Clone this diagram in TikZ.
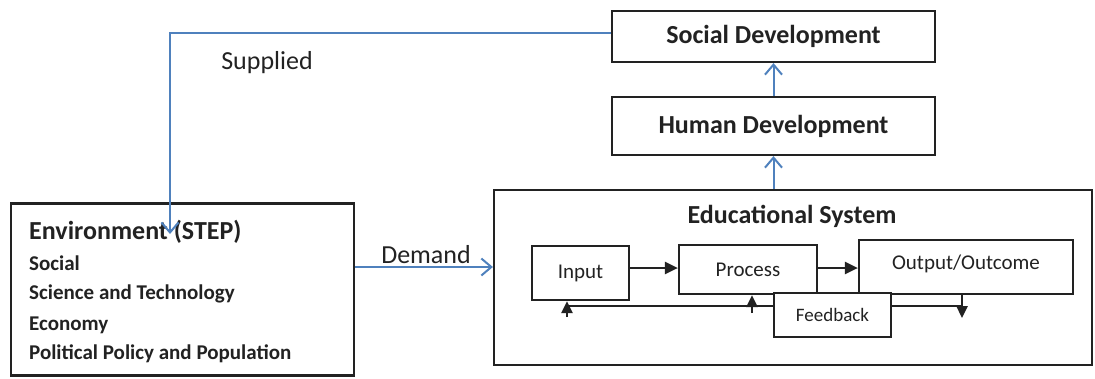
\documentclass[tikz,border=0pt]{standalone}
\usepackage{fontspec}
\setmainfont{Carlito}
\usetikzlibrary{arrows.meta}
\definecolor{lblue}{HTML}{4F81BD}
\definecolor{ink}{HTML}{222222}
\begin{document}
\begin{tikzpicture}[x=1pt,y=-1pt,
  box/.style={draw=ink,line width=2.2pt,fill=white,inner sep=0pt,text=ink},
  bluearrow/.style={draw=lblue,line width=2pt,-{Straight Barb[length=10pt,width=17pt,line width=2pt]}},
  blackarrow/.style={draw=ink,line width=2.4pt,-{Triangle[length=13pt,width=12pt]}},
  vblackarrow/.style={draw=ink,line width=2.4pt,-{Triangle[length=12pt,width=11pt]}},
  blackline/.style={draw=ink,line width=2.4pt},
  head/.style={font=\fontsize{26}{30}\selectfont\bfseries,text=ink,inner sep=0pt},
  item/.style={font=\fontsize{21}{25}\selectfont\bfseries,text=ink,inner sep=0pt,anchor=west},
  inner/.style={font=\fontsize{21}{25}\selectfont,text=ink},
  lbl/.style={font=\fontsize{26}{30}\selectfont,text=ink,inner sep=0pt}]
\useasboundingbox (0,0) rectangle (1095,378);
% top boxes
\node[box,minimum width=323pt,minimum height=51pt,head] (soc) at (773.5,36.5) {Social Development};
\node[box,minimum width=323pt,minimum height=58pt,head] (hum) at (773.5,126) {Human Development};
% educational system
\node[box,minimum width=598pt,minimum height=175pt] (edu) at (793,277.5) {};
\node[head] (edutitle) at (792,216) {Educational System};
\node[box,minimum width=97pt,minimum height=54pt,inner] (inp) at (580.5,273) {Input};
\node[box,minimum width=138pt,minimum height=49pt,inner] (proc) at (748,269.5) {Process};
\node[box,minimum width=214pt,minimum height=54pt] (out) at (966,267) {};
\node[inner,inner sep=0pt] (outtxt) at (966,264) {Output/Outcome};
% environment
\node[box,minimum width=343pt,minimum height=172pt] (env) at (182.5,289.5) {};
\node[head,anchor=west] (envtitle) at (29,232) {Environment (STEP)};
\node[item] (e1) at (29,263) {Social};
\node[item] (e2) at (29,294) {Science and Technology};
\node[item] (e3) at (29,325) {Economy};
\node[item] (e4) at (29,354) {Political Policy and Population};
% inner arrows
\coordinate (ay) at (0,268);
\draw[blackarrow] (inp.east |- ay) -- (proc.west |- ay);
\draw[blackarrow] (proc.east |- ay) -- (out.west |- ay);
% feedback (drawn after process so it overlaps)
\node[box,minimum width=117pt,minimum height=44pt,font=\fontsize{19}{23}\selectfont] (fb) at (832.5,315) {Feedback};
\coordinate (fy) at (0,306);
\coordinate (fl) at (567,306);
\coordinate (fr) at (962,306);
\coordinate (ia) at (567,317);
\coordinate (pa) at (752,313);
\coordinate (od) at (962,318);
\draw[blackline] (fb.west |- fy) -- (fl);
\draw[vblackarrow] (ia) -- (inp.south -| ia);
\draw[vblackarrow] (pa) -- (proc.south -| pa);
\draw[blackline] (fb.east |- fy) -- (fr);
\draw[vblackarrow] (out.south -| od) -- (od);
% blue connectors
\draw[bluearrow] (hum.north) -- (soc.south);
\draw[bluearrow] (hum.south |- edu.north) -- (hum.south);
\coordinate (sc) at (170,33);
\coordinate (stip) at (170,234);
\draw[bluearrow] (soc.west |- sc) -- (sc) -- (stip);
\node[lbl] (supplied) at (267,63) {Supplied};
\coordinate (dy) at (0,267);
\draw[bluearrow] (env.east |- dy) -- (edu.west |- dy);
\node[lbl] (demand) at (426,255) {Demand};
\end{tikzpicture}
\end{document}
